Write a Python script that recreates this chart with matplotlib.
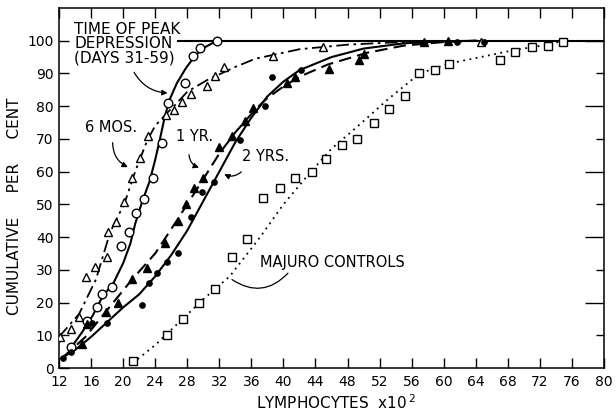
import matplotlib
matplotlib.use("Agg")
import matplotlib.pyplot as plt

# ---------------- data ----------------
# TIME OF PEAK DEPRESSION (DAYS 31-59): open circles, solid curve
peak_x = [13.5, 15.5, 16.8, 17.4, 18.6, 19.7, 20.7, 21.6, 22.6, 23.7, 24.9, 25.6, 27.7, 28.7, 29.6, 31.7]
peak_y = [6.5, 14.4, 18.5, 22.5, 24.8, 37.3, 41.5, 47.4, 51.5, 58.0, 68.6, 81.0, 87.0, 95.4, 97.8, 100.0]
peak_cx = [13.3, 14.9, 16.2, 17.4, 18.8, 20.0, 20.9, 21.5, 22.4, 23.3, 24.0, 24.6, 25.2, 25.8, 26.7,
           27.8, 29.0, 30.2, 31.7]
peak_cy = [5.5, 11.0, 16.0, 21.7, 26.0, 32.0, 38.0, 44.0, 51.0, 57.0, 63.6, 70.0, 76.8, 82.0, 87.0,
           91.5, 95.5, 98.0, 100.0]

# 6 MOS: open triangles, dash-dot curve
mos6_x = [12.1, 13.5, 14.5, 15.4, 16.5, 18.0, 18.1, 19.1, 20.1, 21.1, 22.1, 23.1, 25.4, 26.3, 27.3, 28.5,
          30.5, 31.5, 32.6, 38.7, 45.0, 64.6]
mos6_y = [9.5, 11.8, 15.6, 27.8, 30.9, 34.0, 41.5, 44.5, 50.6, 58.2, 64.2, 70.8, 77.2, 78.8, 81.2, 83.8,
          86.1, 89.2, 92.0, 95.4, 98.2, 99.7]
mos6_cx = [12.0, 14.5, 16.6, 18.4, 20.2, 21.5, 23.0, 24.0, 25.5, 26.5, 28.0, 30.5, 34.0, 36.5, 42.0, 48.0,
           53.0, 59.0, 64.6]
mos6_cy = [9.5, 16.5, 27.0, 41.6, 50.5, 60.0, 69.5, 74.0, 78.0, 80.4, 84.4, 88.0, 92.0, 94.5, 97.4, 98.8,
           99.4, 99.7, 100.0]

# 1 YR: filled triangles, dashed curve
yr1_x = [14.9, 15.5, 17.9, 19.4, 21.1, 23.0, 25.2, 26.9, 27.9, 28.8, 30.0, 32.0, 33.6, 35.2, 36.2,
         40.5, 41.4, 45.7, 49.4, 50.1, 57.5, 60.5]
yr1_y = [7.2, 13.5, 17.0, 20.0, 27.2, 30.6, 38.2, 45.0, 50.0, 55.0, 58.0, 67.5, 70.8, 75.5, 79.5,
         87.2, 88.8, 91.5, 94.0, 95.8, 99.5, 99.8]
yr1_cx = [12.5, 15.3, 17.7, 21.1, 24.0, 26.5, 29.4, 32.0, 34.0, 36.5, 38.0, 40.0, 42.0, 45.5, 50.4,
          55.0, 60.0, 64.0]
yr1_cy = [3.3, 9.5, 16.8, 27.0, 35.0, 44.3, 55.4, 65.5, 72.0, 79.0, 82.5, 86.0, 89.0, 92.7, 96.3,
          98.5, 99.6, 100.0]

# 2 YRS: filled circles, solid curve
yr2_x = [12.5, 13.5, 16.1, 18.0, 22.4, 23.2, 24.2, 25.5, 26.9, 28.5, 29.9, 31.3, 34.6, 37.7, 38.6,
         42.2, 61.7, 65.0]
yr2_y = [3.2, 4.8, 13.6, 13.8, 19.3, 26.0, 29.0, 32.5, 35.2, 46.0, 53.8, 56.8, 69.6, 80.2, 88.8,
         91.1, 99.6, 99.6]
yr2_cx = [12.3, 14.0, 16.0, 18.0, 20.0, 22.0, 24.0, 26.0, 28.0, 30.0, 32.0, 34.0, 36.0, 38.0, 40.0,
          42.0, 46.0, 50.0, 55.0, 60.0, 64.0]
yr2_cy = [3.0, 5.5, 9.5, 14.0, 18.5, 22.5, 28.0, 34.5, 42.0, 51.0, 60.0, 69.0, 76.5, 83.0, 87.5,
          91.0, 95.0, 97.6, 99.2, 99.8, 100.0]

# MAJURO CONTROLS: open squares, dotted curve
maj_x = [21.2, 25.5, 27.5, 29.5, 31.5, 33.6, 35.5, 37.5, 39.6, 41.5, 43.6, 45.3, 47.3, 49.2, 51.3,
         53.2, 55.2, 56.9, 58.9, 60.7, 67.0, 68.9, 71.0, 73.0, 74.9]
maj_y = [2.0, 10.0, 15.0, 20.0, 24.0, 34.0, 39.4, 52.0, 55.0, 58.0, 60.0, 64.0, 68.0, 70.0, 75.0,
         79.0, 83.0, 90.0, 91.0, 93.0, 94.0, 96.6, 98.0, 98.5, 99.7]
maj_cx = [21.2, 24.0, 27.0, 30.0, 33.3, 37.1, 40.0, 43.3, 46.0, 49.2, 53.0, 57.0, 60.6, 64.6, 68.5,
          72.9, 75.0]
maj_cy = [1.5, 7.0, 14.0, 21.0, 28.0, 40.0, 50.0, 59.6, 67.0, 73.7, 82.0, 90.0, 93.0, 95.0, 97.0,
          98.8, 100.0]

asymptote_x = [26.8, 80.0]
asymptote_y = [100.0, 100.0]

x_ticks = list(range(12, 81, 4))
y_ticks = list(range(0, 101, 10))

# ---------------- figure ----------------
fig = plt.figure(figsize=(6.16, 4.17), dpi=100)
ax = fig.add_axes([59 / 616, 1 - 368 / 417, (604 - 59) / 616, (368 - 8) / 417])
ax.set_xlim(12, 80)
ax.set_ylim(0, 110)

lw = 1.5
k = "black"
ax.plot(asymptote_x, asymptote_y, color=k, lw=lw)
ax.plot(peak_cx, peak_cy, color=k, lw=lw, ls="-")
ax.plot(mos6_cx, mos6_cy, color=k, lw=1.3, ls=(0, (7, 2.5, 1.5, 2.5)))
ax.plot(yr1_cx, yr1_cy, color=k, lw=lw, ls=(0, (6, 3)))
ax.plot(yr2_cx, yr2_cy, color=k, lw=lw, ls="-")
ax.plot(maj_cx, maj_cy, color=k, lw=1.3, ls=(0, (1, 2.5)))

ms = 5.5
ax.plot(peak_x, peak_y, ls="none", marker="o", ms=ms + 0.7, mfc="white", mec=k, mew=1.0, zorder=3)
ax.plot(mos6_x, mos6_y, ls="none", marker="^", ms=ms + 0.5, mfc="white", mec=k, mew=1.0, zorder=3)
ax.plot(yr1_x, yr1_y, ls="none", marker="^", ms=ms - 0.3, mfc=k, mec=k, zorder=3)
ax.plot(yr2_x, yr2_y, ls="none", marker="o", ms=3.8, mfc=k, mec=k, zorder=3)
ax.plot(maj_x, maj_y, ls="none", marker="s", ms=ms, mfc="white", mec=k, mew=1.0, zorder=3)

# ticks
ax.set_xticks(x_ticks)
ax.set_xticklabels([str(v) for v in x_ticks])
ax.set_yticks(y_ticks)
ax.set_yticklabels([str(v) for v in y_ticks])
ax.tick_params(axis="x", direction="in", length=7, width=1.0, labelsize=10, pad=5, top=True)
ax.tick_params(axis="y", direction="in", length=7, width=1.0, labelsize=10, pad=4, right=False)
for s in ax.spines.values():
    s.set_linewidth(1.1)

# right-side ticks
axr = ax.twinx()
axr.set_ylim(0, 110)
axr.set_yticks([20, 40, 60, 80, 100])
axr.set_yticks([10, 30, 50, 70, 90], minor=True)
axr.tick_params(axis="y", which="major", direction="in", length=14, width=1.0, labelright=False)
axr.tick_params(axis="y", which="minor", direction="in", length=6, width=1.0, labelright=False)
for s in axr.spines.values():
    s.set_visible(False)

fs = 10.5
fig.text(0.024, 0.505, "CUMULATIVE     PER     CENT", rotation=90, ha="center", va="center",
         fontsize=11)
fig.text(0.546, 0.034, "LYMPHOCYTES  x10$^{\\,2}$", ha="center", va="center", fontsize=11)

# annotations
ax.text(13.9, 99.0, "TIME OF PEAK\nDEPRESSION\n(DAYS 31-59)", ha="left", va="center",
        fontsize=11, linespacing=0.92)
arrow = dict(arrowstyle="-|>", color=k, lw=0.9, mutation_scale=8)
ax.annotate("", xy=(25.9, 84.0), xytext=(21.2, 91.1),
            arrowprops=dict(connectionstyle="arc3,rad=0.3", **arrow))
ax.text(18.5, 73.4, "6 MOS.", ha="center", va="center", fontsize=fs)
ax.annotate("", xy=(20.9, 61.0), xytext=(18.7, 69.7),
            arrowprops=dict(connectionstyle="arc3,rad=0.35", **arrow))
ax.text(28.9, 70.6, "1 YR.", ha="center", va="center", fontsize=fs)
ax.annotate("", xy=(29.8, 61.0), xytext=(28.2, 66.0),
            arrowprops=dict(connectionstyle="arc3,rad=0.4", **arrow))
ax.text(37.8, 64.5, "2 YRS.", ha="center", va="center", fontsize=fs)
ax.annotate("", xy=(32.3, 59.6), xytext=(35.0, 60.5),
            arrowprops=dict(connectionstyle="arc3,rad=-0.4", **arrow))
ax.text(46.1, 32.1, "MAJURO CONTROLS", ha="center", va="center", fontsize=fs)
ax.annotate("", xy=(33.3, 27.5), xytext=(40.8, 29.6),
            arrowprops=dict(connectionstyle="arc3,rad=-0.45", arrowstyle="-", color=k, lw=0.9))

fig.savefig("out.png", dpi=100)
